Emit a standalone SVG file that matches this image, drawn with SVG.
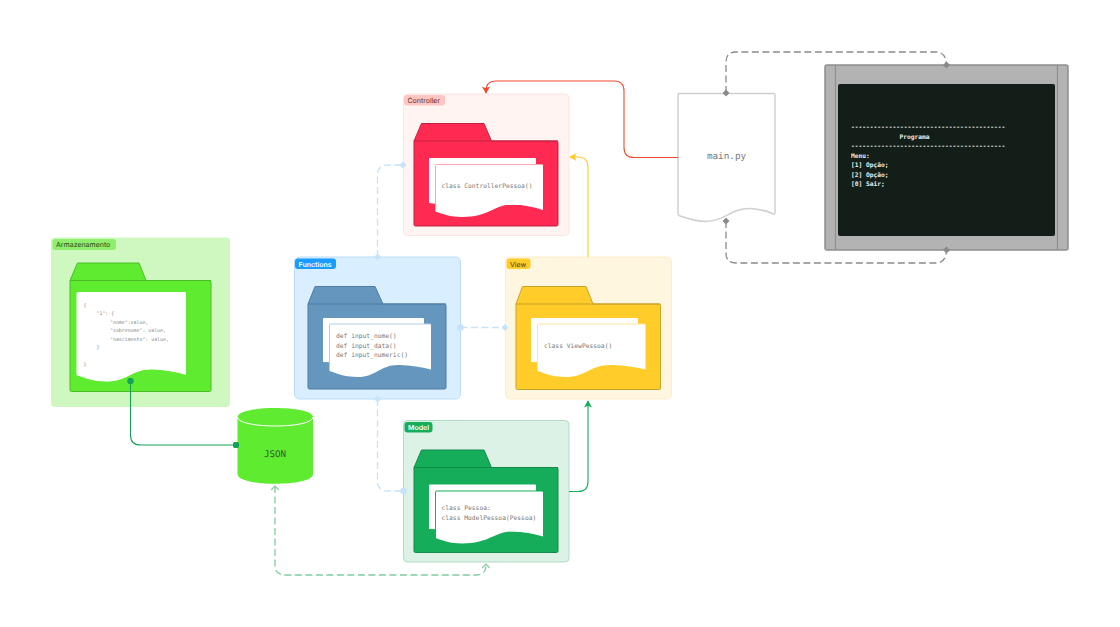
<svg xmlns="http://www.w3.org/2000/svg" width="1120" height="627" viewBox="0 0 1120 627">
<style>
text{opacity:.99;text-rendering:geometricPrecision}
.mono{font-family:"DejaVu Sans Mono","Liberation Mono",monospace;font-size:6.3px;fill:#777}
.lab{font-family:Inter,"Liberation Sans",sans-serif;font-size:7px}
.term{font-family:"DejaVu Sans Mono","Liberation Mono",monospace;font-size:6.25px;font-weight:700;fill:#eef2ef}
.c{fill:none;stroke-width:1.1}
.d{stroke-width:1.300;stroke-dasharray:7 3.500}
.doc{fill:#fff}
.edge{fill:none;stroke-width:1}
</style>
<defs>
<marker id="tri" viewBox="0 0 10 10" refX="9" refY="5" markerWidth="8" markerHeight="8" orient="auto" markerUnits="userSpaceOnUse"><path d="M1 0L10 5L1 10L3 5Z" fill="context-stroke"/></marker>
<marker id="open" viewBox="0 0 10 10" refX="8" refY="5" markerWidth="8" markerHeight="8" orient="auto-start-reverse" markerUnits="userSpaceOnUse"><path d="M3 0L8 5L3 10" fill="none" stroke="context-stroke" stroke-width="1.500"/></marker>
<marker id="dia" viewBox="0 0 10 10" refX="5" refY="5" markerWidth="7" markerHeight="7" orient="auto" markerUnits="userSpaceOnUse"><path d="M5 0L10 5L5 10L0 5Z" fill="context-stroke"/></marker>
<marker id="dot" viewBox="0 0 10 10" refX="5" refY="5" markerWidth="6.500" markerHeight="6.500" markerUnits="userSpaceOnUse"><circle cx="5" cy="5" r="5" fill="context-stroke"/></marker>
</defs>

<g id="controller">
<rect x="403.500" y="94" width="165.500" height="141.500" rx="4" fill="#fff4f2" stroke="#ffe3df"/>
<rect x="404" y="95" width="41" height="10.500" rx="3" fill="#ffc6c1"/>
<text class="lab" x="407.500" y="103" fill="#5a2a2a">Controller</text>
<path d="M414 141L421.500 123.500H484L491.500 141H556.500Q558 141 558 142.500V224.500Q558 226 556.500 226H415.500Q414 226 414 224.500Z" fill="#ff2a52" stroke="#c12140"/>
<path d="M414 141H558" fill="none" stroke="#c12140"/>
<path class="doc" d="M430 158H535Q536 158 536 159V205H445L429 203V159Q429 158 430 158Z"/>
<path class="doc" d="M436.500 164.500H542Q543 164.500 543 165.500V210Q528 205 513 204.500C495 204 490 217 462 217C450 217 443 214 435.500 211.500V165.500Q435.500 164.500 436.500 164.500Z"/>
<path class="edge" stroke="#ffa3ac" d="M435.500 211.500V165.500Q435.500 164.500 436.500 164.500H542Q543 164.500 543 165.500"/>
<text class="mono" x="441.500" y="188">class ControllerPessoa()</text>
</g>

<g id="functions">
<rect x="294.500" y="257" width="166" height="142" rx="5" fill="#d9eeff" stroke="#bcdcfa"/>
<rect x="295" y="258.500" width="41" height="10.500" rx="3" fill="#1a9cff"/>
<text class="lab" x="298.500" y="266.500" fill="#fff" font-weight="600">Functions</text>
<path d="M308 304L315 286.500H375L383 304H444.500Q446 304 446 305.500V387.500Q446 389 444.500 389H309.500Q308 389 308 387.500Z" fill="#6596bd" stroke="#4f7da3"/>
<path d="M308 304H446" fill="none" stroke="#4f7da3"/>
<path class="doc" d="M324 318H423Q424 318 424 319V365L323 362V319Q323 318 324 318Z"/>
<path class="doc" d="M330.500 324H430Q431 324 431 325V369.500Q416 365.500 400 365C381 364 376 377 358 377C346 377 338 374 329.500 371V325Q329.500 324 330.500 324Z"/>
<path class="edge" stroke="#b5cde0" d="M329.500 371V325Q329.500 324 330.500 324H430Q431 324 431 325"/>
<text class="mono" x="336" y="338">def input_nome()</text>
<text class="mono" x="336" y="347.600">def input_data()</text>
<text class="mono" x="336" y="357.200">def input_numeric()</text>
</g>

<g id="view">
<rect x="505.500" y="257" width="166" height="142" rx="5" fill="#fff6df" stroke="#ffedc8"/>
<rect x="506.500" y="258.500" width="24" height="10.500" rx="3" fill="#ffcc29"/>
<text class="lab" x="510" y="266.500" fill="#4a3a10">View</text>
<path d="M516 304L522.500 286.500H586L593 304H659Q660.500 304 660.500 305.500V388Q660.500 389.500 659 389.500H517.500Q516 389.500 516 388Z" fill="#ffcc29" stroke="#c8a22a"/>
<path d="M516 304H660.500" fill="none" stroke="#c8a22a"/>
<path class="doc" d="M532 318H637Q638 318 638 319V365L531 362V319Q531 318 532 318Z"/>
<path class="doc" d="M538.500 324H644.500Q645.500 324 645.500 325V369.500Q630 365.500 612 365C591 364 586 377 566 377C554 377 546 374 537.500 371V325Q537.500 324 538.500 324Z"/>
<path class="edge" stroke="#ffe3a0" d="M537.500 371V325Q537.500 324 538.500 324H644.500Q645.500 324 645.500 325"/>
<text class="mono" x="544" y="347.500">class ViewPessoa()</text>
</g>

<g id="model">
<rect x="403.500" y="420.500" width="165.500" height="141.500" rx="4" fill="#dcf2e6" stroke="#b3dcc5"/>
<rect x="404.500" y="422" width="28" height="10.500" rx="3" fill="#16ad5a"/>
<text class="lab" x="408" y="430" fill="#fff" font-weight="600">Model</text>
<path d="M414 467.500L421.500 450H484L491.500 467.500H556.500Q558 467.500 558 469V551Q558 552.500 556.500 552.500H415.500Q414 552.500 414 551Z" fill="#16ad5a" stroke="#128a4a"/>
<path d="M414 467.500H558" fill="none" stroke="#128a4a"/>
<path class="doc" d="M430 484.500H535Q536 484.500 536 485.500V532L429 529V485.500Q429 484.500 430 484.500Z"/>
<path class="doc" d="M436.500 491H542Q543 491 543 492V536.500Q528 532 513 531.500C495 531 490 543.500 462 543.500C450 543.500 443 540.500 435.500 538V492Q435.500 491 436.500 491Z"/>
<path class="edge" stroke="#16ad5a" d="M435.500 538V492Q435.500 491 436.500 491H542Q543 491 543 492"/>
<text class="mono" x="441.500" y="510">class Pessoa:</text>
<text class="mono" x="441.500" y="519.500">class ModelPessoa(Pessoa)</text>
</g>

<g id="armazenamento">
<rect x="51" y="237.500" width="179" height="169.500" rx="4" fill="#cef8bf"/>
<rect x="52.500" y="239" width="63.500" height="11" rx="3" fill="#90ee6f"/>
<text class="lab" x="56" y="247" fill="#1f4a14">Armazenamento</text>
<path d="M70 280.500L77.500 263H139L146 280.500H209.500Q211 280.500 211 282V390Q211 391.500 209.500 391.500H71.500Q70 391.500 70 390Z" fill="#5fec30" stroke="#4cbb27"/>
<path d="M70 280.500H211" fill="none" stroke="#4cbb27"/>
<path class="doc" d="M78 292H185Q186 292 186 293V375Q171 370 152 369.500C132 369 128 381.500 106 381.500C94 381.500 85 378 76.500 375V293.500Q76.500 292 78 292Z"/>
<g style="font-family:'DejaVu Sans Mono','Liberation Mono',monospace;font-size:4.900px;fill:#888">
<text x="83.500" y="306.500">{</text>
<text x="96.500" y="315">"1": {</text>
<text x="110" y="323.500">"nome":value,</text>
<text x="110" y="332">"sobrenome": value,</text>
<text x="110" y="340.500">"nascimento": value,</text>
<text x="96.500" y="349">}</text>
<text x="83.500" y="366">}</text>
</g>
</g>

<g id="json">
<path d="M237.500 417C237.500 405 313 405 313 417V474C313 487 237.500 487 237.500 474Z" fill="#5fec30"/>
<path d="M237.500 417C237.500 429 313 429 313 417" fill="none" stroke="#fff" stroke-width="1"/>
<text x="275" y="457" text-anchor="middle" style="font-family:'DejaVu Sans Mono',monospace;font-size:9.200px;fill:#2f5a25">JSON</text>
</g>

<g id="main">
<path d="M680 93.500H773.500Q775 93.500 775 95V212.500Q775 214.500 773 213.800Q762 209 750 208.500C731 208 725 221.500 705 221.500C696 221.500 686 218 679.500 215.800Q678 215 678 213.500V95Q678 93.500 680 93.500Z" fill="#fff" stroke="#cfcfcf" stroke-width="1.500"/>
<text x="726.500" y="159" text-anchor="middle" style="font-family:'DejaVu Sans Mono',monospace;font-size:9.300px;fill:#777">main.py</text>
</g>

<g id="terminal">
<rect x="825" y="65" width="243" height="185" rx="2" fill="#b3b3b3" stroke="#8f8f8f" stroke-width="1.500"/>
<path d="M835.500 65V250M1057.500 65V250" stroke="#8f8f8f" stroke-width="1.200" fill="none"/>
<rect x="838" y="84" width="217" height="152" rx="2" fill="#141e19"/>
<text class="term" x="851" y="129">-----------------------------------------</text>
<text class="term" x="899.500" y="138.800">Programa</text>
<text class="term" x="851" y="148">-----------------------------------------</text>
<text class="term" x="851" y="157.500">Menu:</text>
<text class="term" x="851" y="167">[1] Opção;</text>
<text class="term" x="851" y="176.500">[2] Opção;</text>
<text class="term" x="851" y="186">[0] Sair;</text>
</g>

<g id="connectors">
<path class="c" stroke="#f0492b" marker-end="url(#tri)" d="M678 157.500H634Q624 157.500 624 147.500V91Q624 81 614 81H496Q486 81 486 91V93"/>
<path class="c" stroke="#ffc927" marker-end="url(#tri)" d="M588 257V167Q588 157 578 157H570"/>
<path class="c" stroke="#16ad5a" marker-end="url(#tri)" d="M569 491.500H578Q588 491.500 588 481.500V401"/>
<path class="c d" stroke="#c5e3fb" marker-start="url(#dia)" marker-end="url(#dia)" d="M377.500 257V175Q377.500 165 387.500 165H403"/>
<path class="c d" stroke="#c5e3fb" marker-start="url(#dia)" marker-end="url(#dot)" d="M377.500 399V481Q377.500 491 387.500 491H403.500"/>
<path class="c d" stroke="#c5e3fb" marker-start="url(#dot)" marker-end="url(#dia)" d="M460.500 327.500H505"/>
<path class="c" stroke="#16a05a" marker-start="url(#dot)" marker-end="url(#dot)" d="M130.500 381V435Q130.500 445 140.500 445H236"/>
<path class="c d" stroke="#7fcb9f" marker-start="url(#open)" marker-end="url(#open)" d="M275 486V565Q275 575 285 575H476Q486 575 486 565V564"/>
<path class="c d" stroke="#8a8a8a" marker-start="url(#dia)" marker-end="url(#dia)" d="M726 93V62Q726 52 736 52H936Q946 52 946.500 65"/>
<path class="c d" stroke="#8a8a8a" marker-start="url(#dia)" marker-end="url(#dia)" d="M726 221V253Q726 263 736 263H936Q946 263 946.500 250"/>
</g>
</svg>
